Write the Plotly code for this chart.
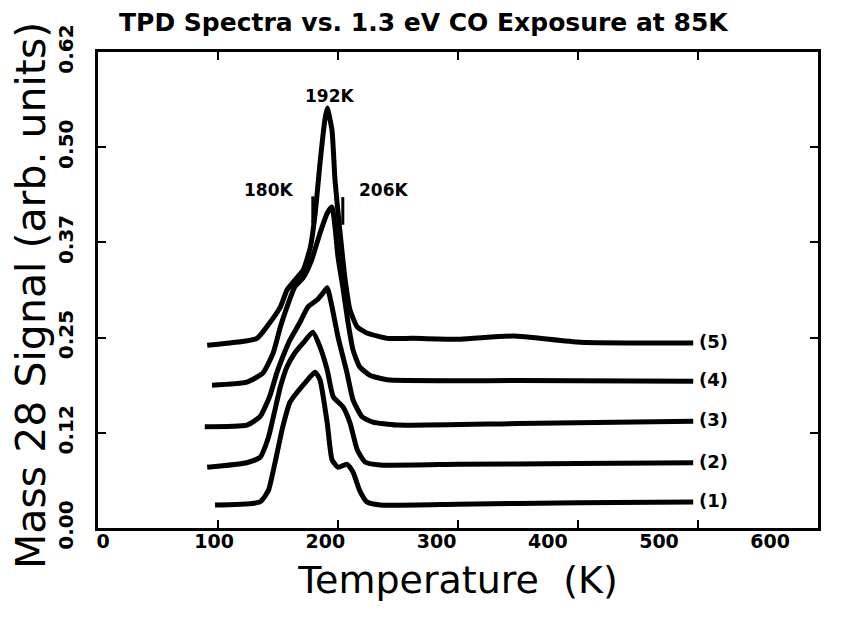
import plotly.graph_objects as go

# ---- data ----
t1 = [97.5, 135, 142, 147.5, 154, 160, 164, 172.5, 178, 181, 185, 191, 195, 200, 207.5, 212.5, 218, 224, 235, 300, 400, 496]
s1 = [0.030, 0.034, 0.049, 0.085, 0.132, 0.164, 0.173, 0.189, 0.199, 0.203, 0.193, 0.137, 0.089, 0.079, 0.083, 0.073, 0.049, 0.034, 0.030, 0.031, 0.033, 0.034]

t2 = [91, 124, 135, 142, 147.5, 152, 157.5, 164, 171, 179, 185, 191, 196, 204, 210, 216, 222.5, 235, 300, 400, 496]
s2 = [0.079, 0.085, 0.092, 0.118, 0.154, 0.184, 0.210, 0.228, 0.241, 0.255, 0.236, 0.206, 0.171, 0.158, 0.137, 0.102, 0.086, 0.082, 0.083, 0.084, 0.085]

t3 = [89, 124, 135, 143, 149, 154, 160, 168, 175, 182.5, 187.5, 191, 195, 200, 207.5, 212.5, 220, 229, 249, 350, 496]
s3 = [0.132, 0.134, 0.145, 0.171, 0.202, 0.223, 0.245, 0.267, 0.288, 0.297, 0.306, 0.313, 0.288, 0.249, 0.202, 0.167, 0.145, 0.138, 0.134, 0.136, 0.139]

t4 = [95, 124, 137.5, 146, 152, 157.5, 164, 171, 178, 185, 191, 195, 197.5, 200, 204, 208, 212.5, 218, 226.5, 241, 350, 496]
s4 = [0.186, 0.190, 0.202, 0.228, 0.262, 0.288, 0.314, 0.326, 0.349, 0.384, 0.410, 0.418, 0.392, 0.353, 0.314, 0.271, 0.232, 0.210, 0.199, 0.193, 0.192, 0.191]

t5 = [91, 110, 132.5, 143, 152, 157.5, 162.5, 171, 177, 181, 185, 189, 191, 195, 197.5, 201.5, 206, 210, 216, 224, 241, 262.5, 302, 346, 402, 496]
s5 = [0.238, 0.241, 0.247, 0.267, 0.288, 0.310, 0.320, 0.336, 0.366, 0.410, 0.475, 0.531, 0.547, 0.518, 0.453, 0.388, 0.323, 0.284, 0.262, 0.254, 0.247, 0.247, 0.246, 0.250, 0.242, 0.241]

curves = [(t1, s1), (t2, s2), (t3, s3), (t4, s4), (t5, s5)]
curve_labels = ["(1)", "(2)", "(3)", "(4)", "(5)"]

x_ticks = [0, 100, 200, 300, 400, 500, 600]
y_tickvals = [0, 0.124, 0.248, 0.372, 0.496, 0.62]
y_ticktext = ["0.00", "0.12", "0.25", "0.37", "0.50", "0.62"]

peak_labels = ["180K", "192K", "206K"]
peak_label_x = [142, 193, 237.5]
peak_label_y = [0.440, 0.563, 0.440]
marker_t = [179, 204]
marker_top = [0.432, 0.431]
marker_bot = [0.397, 0.395]

title = "TPD Spectra vs. 1.3 eV CO Exposure at 85K"
y_title = "Mass 28 Signal (arb. units)"
x_title = "Temperature  (K)"

BOLD = dict(family="DejaVu Sans", color="black", weight="bold")

fig = go.Figure()
for (t, s) in curves:
    fig.add_trace(go.Scatter(x=t, y=s, mode="lines",
                             line=dict(color="black", width=5, shape="spline", smoothing=0.5),
                             showlegend=False, hoverinfo="skip"))

for mt, a, b in zip(marker_t, marker_top, marker_bot):
    fig.add_trace(go.Scatter(x=[mt, mt], y=[a, b], mode="lines",
                             line=dict(color="black", width=3),
                             showlegend=False, hoverinfo="skip"))

# helper trace so the label-only axis is drawn
fig.add_trace(go.Scatter(x=[x_ticks[0], x_ticks[-1]], y=[None, None], xaxis="x2",
                         mode="lines", showlegend=False, hoverinfo="skip"))

for (t, s), lab in zip(curves, curve_labels):
    fig.add_annotation(x=t[-1] + 3, y=s[-1] + 0.002, text=lab, showarrow=False,
                       xanchor="left", yanchor="middle", font=dict(size=18, **BOLD))

for lab, x, y in zip(peak_labels, peak_label_x, peak_label_y):
    fig.add_annotation(x=x, y=y, text=lab, showarrow=False,
                       xanchor="center", yanchor="middle", font=dict(size=17, **BOLD))

fig.add_annotation(xref="paper", yref="paper", x=(424 - 98) / 720, y=1 + (52 - 22) / 476,
                   text=title, showarrow=False, xanchor="center", yanchor="middle",
                   font=dict(size=25, **BOLD))

# rotated y-axis title (placed slightly below the plot centre, as in the reference)
fig.add_annotation(xref="paper", yref="paper", x=(31 - 98) / 720, y=(528 - 296) / 476,
                   text=y_title, showarrow=False, textangle=-90,
                   xanchor="center", yanchor="middle",
                   font=dict(family="DejaVu Sans", size=41, color="black"))

fig.update_layout(
    width=830, height=603,
    margin=dict(l=90, r=20, t=44, b=83),
    paper_bgcolor="white", plot_bgcolor="white",
    xaxis=dict(range=[0, 600], tickvals=x_ticks, showticklabels=False,
               ticks="inside", ticklen=8, tickwidth=2,
               tickcolor="black", showline=True, linewidth=3, linecolor="black", mirror="ticks",
               showgrid=False, zeroline=False,
               title=dict(text=x_title, standoff=37,
                          font=dict(family="DejaVu Sans", size=38, color="black"))),
    xaxis2=dict(overlaying="x", anchor="y", side="bottom", range=[-4.5, 643],
                tickvals=x_ticks, ticks="", showline=False, showgrid=False, zeroline=False,
                tickfont=dict(size=19, **BOLD)),
    yaxis=dict(range=[0, 0.62], tickvals=y_tickvals, ticktext=y_ticktext, tickangle=-90,
               ticks="inside", ticklen=8, tickwidth=2, tickcolor="black",
               showline=True, linewidth=3, linecolor="black", mirror="ticks",
               showgrid=False, zeroline=False, ticklabelstandoff=14,
               tickfont=dict(size=20, **BOLD)),
)

fig.write_html("out.html")
